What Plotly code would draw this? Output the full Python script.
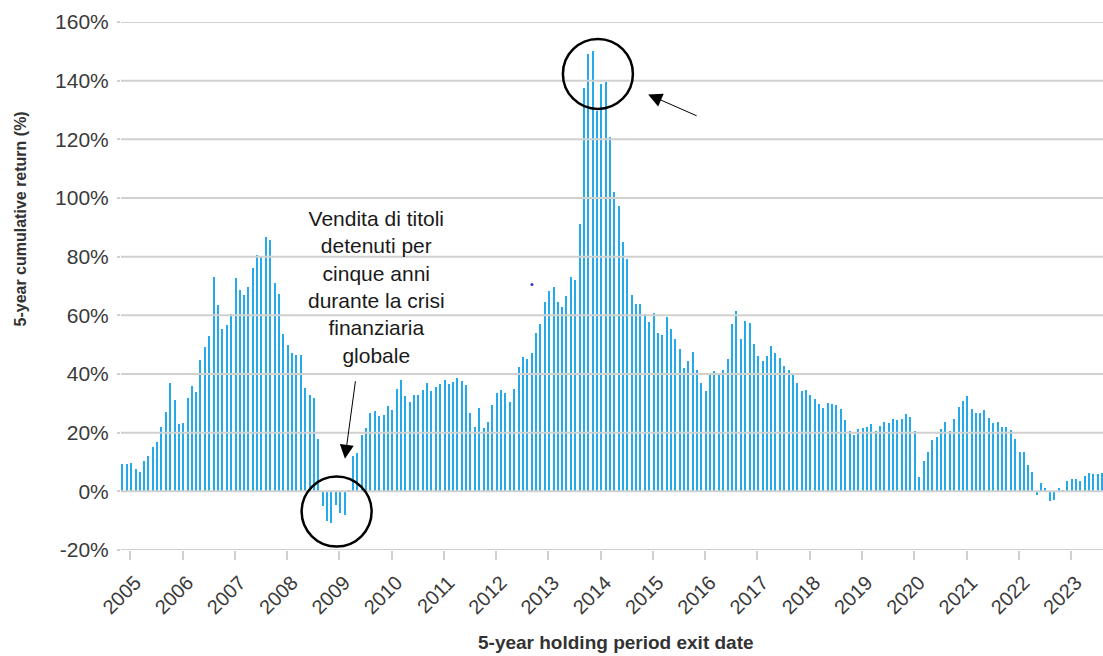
import pandas as pd
import plotly.graph_objects as go

# 5-year cumulative return (%) by monthly exit date, Nov 2004 -> Aug 2023
returns = [
    9.3, 9.3, 9.7, 7.6, 6.6, 10.3, 12.0, 15.0, 16.8, 21.8, 26.9, 37.0, 31.2, 23.0, 23.2, 31.8,
    36.0, 34.0, 44.9, 49.2, 53.0, 73.0, 63.5, 55.5, 56.8, 60.5, 72.6, 68.6, 67.0, 69.8, 76.1,
    80.6, 80.1, 86.6, 85.6, 71.1, 67.4, 53.5, 49.9, 47.3, 46.5, 46.5, 35.3, 32.7, 31.9, 17.8,
    -4.9, -10.0, -10.8, -4.6, -7.4, -7.9, 0.3,
    11.9, 13.0, 19.1, 21.5, 26.8, 27.5, 25.7, 26.1, 29.2, 27.6, 35.0, 38.0, 32.5, 30.6, 32.7,
    32.7, 34.7, 37.0, 34.3, 35.6, 36.7, 38.0, 36.5, 37.4, 38.5, 37.7, 36.1, 26.7, 21.8, 28.4,
    21.6, 23.5, 29.3, 33.4, 34.5, 33.4, 30.5, 34.8, 42.4, 45.8, 45.2, 47.0,
    53.9, 57.0, 64.6, 68.4, 69.5, 64.5, 62.9, 66.6, 73.0, 72.0, 91.3, 137.6, 149.0, 150.2,
    129.7, 138.8, 139.5, 120.8, 101.9, 97.2, 85.0, 79.2, 66.8, 63.7, 63.8, 60.3, 57.8, 60.7,
    54.1, 53.3, 59.4, 55.3, 51.8, 48.6, 42.2, 44.5, 47.5, 41.3,
    37.1, 34.2, 40.2, 41.0, 40.2, 41.3, 45.0, 57.2, 61.5, 52.1, 58.0, 57.4, 50.1, 46.0, 44.4,
    46.1, 49.6, 47.2, 45.3, 42.6, 41.2, 39.5, 37.0, 34.2, 34.5, 32.7, 31.5, 29.7, 28.3, 30.2,
    29.7, 29.6, 28.2, 24.3, 20.7, 19.3, 21.3, 21.6, 22.1, 22.8, 20.4, 22.4,
    23.6, 23.4, 24.6, 24.4, 24.5, 26.4, 25.3, 20.5, 4.9, 10.5, 13.5, 17.5, 18.5, 21.4, 23.7,
    20.5, 24.8, 28.9, 30.7, 32.5, 28.2, 26.6, 26.6, 27.8, 25.1, 23.2, 23.6, 22.0, 22.1, 20.9,
    18.0, 13.3, 13.3, 9.0, 6.6, -1.4, 2.8, 1.2, -3.4, -2.8, 1.1, 0.6, 3.4, 4.1, 4.1, 3.6,
    5.1, 6.1, 5.8, 6.0, 6.2,
]
first_exit_month = "2004-11-01"
exit_dates = pd.date_range(first_exit_month, periods=len(returns), freq="MS") + pd.Timedelta(days=7)

y_ticks = [-20, 0, 20, 40, 60, 80, 100, 120, 140, 160]
y_tick_labels = [f"{v}%" for v in y_ticks]
years = list(range(2005, 2024))
year_tick_vals = [f"{y}-01-01" for y in years]
year_tick_labels = [str(y) for y in years]

annotation_text = ("Vendita di titoli<br>detenuti per<br>cinque anni<br>"
                   "durante la crisi<br>finanziaria<br>globale")
x_title = "5-year holding period exit date"
y_title = "5-year cumulative return (%)"

FONT = "Liberation Sans, Arial, sans-serif"
GRID = "#d0d0d0"
BAR = "#26a9e8"

fig = go.Figure(
    go.Bar(
        x=exit_dates,
        y=returns,
        width=10 * 86400000,
        marker=dict(color=BAR, line_width=0),
        hoverinfo="x+y",
    )
)

for v in y_ticks:
    fig.add_hline(y=v, line=dict(color=GRID, width=2), layer="above")

# circles highlighting regions
for cx, cy in [("2008-12-13", -6.9), ("2013-12-13", 142.3)]:
    fig.add_shape(type="circle", xref="x", yref="y", xsizemode="pixel", ysizemode="pixel",
                  xanchor=cx, yanchor=cy, x0=-35, x1=35, y0=-35, y1=35,
                  line=dict(color="black", width=2.5), layer="above")
# small stray dot
fig.add_shape(type="circle", xref="x", yref="y", xsizemode="pixel", ysizemode="pixel",
              xanchor="2012-09-08", yanchor=70.5, x0=-1.5, x1=1.5, y0=-1.5, y1=1.5,
              line=dict(color="#3535e0", width=0), fillcolor="#3535e0", layer="above")

fig.add_annotation(x="2009-09-20", y=69.8, xref="x", yref="y", text=annotation_text,
                   showarrow=False, xanchor="center", yanchor="middle", align="center",
                   font=dict(family=FONT, size=21, color="#1a1a1a"))
fig.add_annotation(x="2009-02-09", y=11.1, xref="x", yref="y", text="", showarrow=True,
                   ax=10.7, ay=-79, arrowhead=2, arrowsize=2.8, arrowwidth=1,
                   arrowcolor="black", standoff=0)
fig.add_annotation(x="2014-11-29", y=135.3, xref="x", yref="y", text="", showarrow=True,
                   ax=50, ay=22, arrowhead=2, arrowsize=2.8, arrowwidth=1,
                   arrowcolor="black", standoff=0)

fig.add_annotation(x=0.504, y=-0.176, xref="paper", yref="paper", text=x_title,
                   showarrow=False, xanchor="center", yanchor="middle",
                   font=dict(family=FONT, size=19, color="#333333", weight="bold"))
fig.add_annotation(x=-0.1023, y=0.627, xref="paper", yref="paper", text=y_title,
                   showarrow=False, xanchor="center", yanchor="middle", textangle=-90,
                   font=dict(family=FONT, size=16, color="#333333", weight="bold"))

fig.update_layout(
    width=1103,
    height=656,
    margin=dict(l=121, r=0, t=22, b=106),
    paper_bgcolor="white",
    plot_bgcolor="white",
    showlegend=False,
    bargap=0,
    xaxis=dict(
        type="date",
        range=["2004-10-28", "2023-08-13"],
        tickmode="array",
        tickvals=year_tick_vals,
        ticktext=year_tick_labels,
        tickangle=-45,
        ticks="outside",
        ticklen=9,
        tickwidth=2,
        tickcolor=GRID,
        showgrid=False,
        zeroline=False,
        showline=False,
        ticklabelshift=5,
        ticklabelstandoff=3,
        tickfont=dict(family=FONT, size=20, color="#3a3a3a"),
    ),
    yaxis=dict(
        range=[-20, 160],
        tickmode="array",
        tickvals=y_ticks,
        ticktext=y_tick_labels,
        ticks="outside",
        ticklen=3,
        tickwidth=2,
        tickcolor=GRID,
        showgrid=False,
        zeroline=False,
        showline=False,
        ticklabelstandoff=4,
        tickfont=dict(family=FONT, size=21, color="#3a3a3a"),
    ),
)

fig.write_html("out.html", config={"displayModeBar": False},
               post_script="document.body.style.margin='0';document.body.style.overflow='hidden';")
